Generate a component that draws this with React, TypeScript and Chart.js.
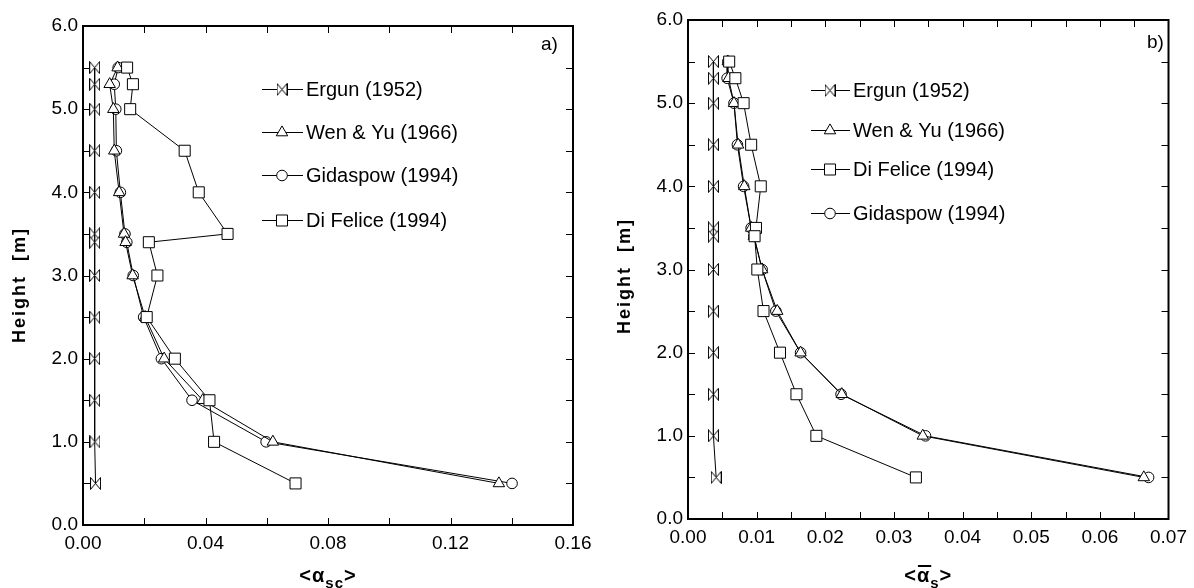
import React, { useEffect, useRef } from 'react';
import { Chart, registerables } from 'chart.js';

Chart.register(...registerables);

const FONT = "'Liberation Sans', Arial, Helvetica, sans-serif";

// ---------- Panel a) ----------
const heightsA = [5.5, 5.3, 5.0, 4.5, 4.0, 3.5, 3.4, 3.0, 2.5, 2.0, 1.5, 1.0, 0.5];
const ergunA = [0.0038, 0.0038, 0.0038, 0.0038, 0.0038, 0.0038, 0.0038, 0.0038, 0.0038, 0.0038, 0.0038, 0.0039, 0.0041];
const wenYuA = [0.0113, 0.0087, 0.0099, 0.0102, 0.0118, 0.0134, 0.0139, 0.0162, 0.0203, 0.0265, 0.0391, 0.062, 0.1358];
const gidaspowA = [0.0115, 0.0102, 0.0107, 0.0109, 0.0122, 0.0137, 0.0143, 0.0164, 0.0198, 0.0256, 0.0356, 0.0598, 0.1401];
const diFeliceA = [0.0144, 0.0163, 0.0154, 0.0332, 0.0378, 0.0472, 0.0215, 0.0243, 0.0208, 0.030, 0.0413, 0.0428, 0.0694];
const xTicksA = [0, 0.04, 0.08, 0.12, 0.16];

// ---------- Panel b) ----------
const heightsB = [5.5, 5.3, 5.0, 4.5, 4.0, 3.5, 3.4, 3.0, 2.5, 2.0, 1.5, 1.0, 0.5];
const ergunB = [0.0037, 0.0037, 0.0037, 0.0037, 0.0037, 0.0037, 0.0037, 0.0037, 0.0037, 0.0037, 0.0037, 0.0037, 0.0041];
const wenYuB = [0.0058, 0.0059, 0.0067, 0.0073, 0.0082, 0.0092, 0.0096, 0.0108, 0.0130, 0.0164, 0.0224, 0.0342, 0.0664];
const gidaspowB = [0.0058, 0.0057, 0.0067, 0.0072, 0.0081, 0.0092, 0.0096, 0.0108, 0.0128, 0.0164, 0.0223, 0.0346, 0.0671];
const diFeliceB = [0.0060, 0.0069, 0.0081, 0.0092, 0.0106, 0.0099, 0.0097, 0.0101, 0.0110, 0.0134, 0.0158, 0.0187, 0.0332];
const xTicksB = [0, 0.01, 0.02, 0.03, 0.04, 0.05, 0.06, 0.07];

const yTicks = [0, 1, 2, 3, 4, 5, 6];

type MarkerKind = 'bowtie' | 'triangle' | 'circle' | 'rect';

function makeBowtie(): HTMLCanvasElement {
  const c = document.createElement('canvas');
  c.width = 11;
  c.height = 13;
  const g = c.getContext('2d')!;
  g.fillStyle = '#fff';
  g.strokeStyle = '#000';
  g.lineWidth = 1;
  g.beginPath();
  g.moveTo(0.5, 0.5);
  g.lineTo(10.5, 12.5);
  g.lineTo(10.5, 0.5);
  g.lineTo(0.5, 12.5);
  g.closePath();
  g.fill();
  g.stroke();
  return c;
}

const RADII: Record<MarkerKind, number> = { bowtie: 5, triangle: 6.6, circle: 5.3, rect: 7.8 };

function drawMarker(ctx: CanvasRenderingContext2D, kind: MarkerKind, x: number, y: number, bow: HTMLCanvasElement) {
  ctx.save();
  ctx.fillStyle = '#fff';
  ctx.strokeStyle = '#000';
  ctx.lineWidth = 1;
  const r = RADII[kind];
  if (kind === 'bowtie') {
    ctx.drawImage(bow, x - bow.width / 2, y - bow.height / 2);
  } else if (kind === 'circle') {
    ctx.beginPath();
    ctx.arc(x, y, r, 0, Math.PI * 2);
    ctx.fill();
    ctx.stroke();
  } else if (kind === 'rect') {
    const s = Math.SQRT1_2 * r;
    ctx.beginPath();
    ctx.rect(x - s, y - s, 2 * s, 2 * s);
    ctx.fill();
    ctx.stroke();
  } else {
    let rad = 0;
    ctx.beginPath();
    ctx.moveTo(x + Math.sin(rad) * r, y - Math.cos(rad) * r);
    rad += (2 * Math.PI) / 3;
    ctx.lineTo(x + Math.sin(rad) * r, y - Math.cos(rad) * r);
    rad += (2 * Math.PI) / 3;
    ctx.lineTo(x + Math.sin(rad) * r, y - Math.cos(rad) * r);
    ctx.closePath();
    ctx.fill();
    ctx.stroke();
  }
  ctx.restore();
}

interface Series {
  label: string;
  values: number[];
  marker: MarkerKind;
  order: number;
}

interface PanelSpec {
  heights: number[];
  series: Series[];
  legendOrder: string[];
  xMax: number;
  xTicks: number[];
  xMinor: number;
  padTop: number;
  padRight: number;
  yAxisW: number;
  xAxisH: number;
  legend: { lx0: number; lx1: number; mx: number; tx: number; rows: number[] };
  panelLabel: { text: string; x: number; y: number };
  yTitle: { x: number; y: number };
  xTitle: { y: number; overline: boolean; sub: string };
}

function drawXTitle(ctx: CanvasRenderingContext2D, cx: number, base: number, overline: boolean, sub: string) {
  const big = `bold 20px ${FONT}`;
  const small = `bold 15px ${FONT}`;
  ctx.save();
  ctx.fillStyle = '#000';
  ctx.strokeStyle = '#000';
  ctx.textBaseline = 'alphabetic';
  ctx.textAlign = 'left';
  (ctx as any).letterSpacing = '1px';
  ctx.font = big;
  const wLt = ctx.measureText('<').width;
  const wA = ctx.measureText('α').width;
  const wGt = ctx.measureText('>').width;
  ctx.font = small;
  const wS = ctx.measureText(sub).width;
  const total = wLt + wA + wS + wGt;
  let x = cx - total / 2;
  ctx.font = big;
  ctx.fillText('<', x, base);
  x += wLt;
  ctx.fillText('α', x, base);
  if (overline) {
    ctx.lineWidth = 2;
    ctx.beginPath();
    ctx.moveTo(x + 1, base - 16);
    ctx.lineTo(x + wA + 1, base - 16);
    ctx.stroke();
  }
  x += wA;
  ctx.font = small;
  ctx.fillText(sub, x, base + 6);
  x += wS;
  ctx.font = big;
  ctx.fillText('>', x, base);
  ctx.restore();
}

function decorPlugin(spec: PanelSpec, bow: HTMLCanvasElement) {
  return {
    id: 'decor',
    afterDraw(chart: any) {
      const ctx: CanvasRenderingContext2D = chart.ctx;
      const { left, right, top, bottom } = chart.chartArea;
      const xs = chart.scales.x;
      const ys = chart.scales.y;
      ctx.save();
      // inward tick marks
      ctx.strokeStyle = '#000';
      ctx.lineWidth = 1;
      ctx.beginPath();
      const nx = Math.round(spec.xMax / spec.xMinor);
      for (let i = 1; i < nx; i++) {
        const px = Math.round(xs.getPixelForValue(i * spec.xMinor)) + 0.5;
        ctx.moveTo(px, bottom);
        ctx.lineTo(px, bottom - 7);
        ctx.moveTo(px, top);
        ctx.lineTo(px, top + 7);
      }
      for (let i = 1; i < 12; i++) {
        const py = Math.round(ys.getPixelForValue(i * 0.5)) + 0.5;
        ctx.moveTo(left, py);
        ctx.lineTo(left + 7, py);
        ctx.moveTo(right, py);
        ctx.lineTo(right - 7, py);
      }
      ctx.stroke();
      // frame
      ctx.lineWidth = 2;
      ctx.strokeRect(left, top, right - left, bottom - top);

      // legend
      ctx.font = `20px ${FONT}`;
      ctx.fillStyle = '#000';
      ctx.textBaseline = 'middle';
      ctx.textAlign = 'left';
      spec.legendOrder.forEach((name, i) => {
        const s = spec.series.find((q) => q.label === name)!;
        const y = spec.legend.rows[i];
        ctx.lineWidth = 1;
        ctx.beginPath();
        ctx.moveTo(spec.legend.lx0, y + 0.5);
        ctx.lineTo(spec.legend.lx1, y + 0.5);
        ctx.stroke();
        drawMarker(ctx, s.marker, spec.legend.mx, y + 0.5, bow);
        ctx.fillStyle = '#000';
        ctx.font = `20px ${FONT}`;
        ctx.textBaseline = 'middle';
        ctx.textAlign = 'left';
        ctx.fillText(s.label, spec.legend.tx, y + 1);
      });

      // panel label
      ctx.font = `19px ${FONT}`;
      ctx.textAlign = 'left';
      ctx.textBaseline = 'middle';
      ctx.fillText(spec.panelLabel.text, spec.panelLabel.x, spec.panelLabel.y);

      // y title
      ctx.save();
      ctx.translate(spec.yTitle.x, spec.yTitle.y);
      ctx.rotate(-Math.PI / 2);
      ctx.font = `bold 18px ${FONT}`;
      (ctx as any).letterSpacing = '2px';
      ctx.textAlign = 'center';
      ctx.textBaseline = 'alphabetic';
      ctx.fillText('Height  [m]', 0, 0);
      ctx.restore();

      // x title
      drawXTitle(ctx, (left + right) / 2, spec.xTitle.y, spec.xTitle.overline, spec.xTitle.sub);
      ctx.restore();
    },
  };
}

function buildConfig(spec: PanelSpec, bow: HTMLCanvasElement): any {
  const styleFor = (m: MarkerKind) => (m === 'bowtie' ? bow : m);
  return {
    type: 'scatter',
    data: {
      datasets: spec.series.map((s) => ({
        label: s.label,
        data: spec.heights.map((h, i) => ({ x: s.values[i], y: h })),
        showLine: true,
        borderColor: '#000',
        borderWidth: 1,
        tension: 0,
        pointStyle: styleFor(s.marker),
        pointRadius: RADII[s.marker],
        pointBackgroundColor: '#fff',
        pointBorderColor: '#000',
        pointBorderWidth: 1,
        order: s.order,
        clip: false,
      })),
    },
    options: {
      responsive: false,
      animation: false,
      events: [],
      layout: { padding: { top: spec.padTop, right: spec.padRight, left: 0, bottom: 0 } },
      plugins: { legend: { display: false }, tooltip: { enabled: false }, title: { display: false } },
      scales: {
        x: {
          type: 'linear',
          min: 0,
          max: spec.xMax,
          grid: { display: false, drawTicks: false },
          border: { display: false },
          afterBuildTicks: (scale: any) => {
            scale.ticks = spec.xTicks.map((v) => ({ value: v }));
          },
          ticks: {
            padding: 7,
            color: '#000',
            font: { family: FONT, size: 19 },
            maxRotation: 0,
            autoSkip: false,
            callback: (v: any) => Number(v).toFixed(2),
          },
          afterFit: (scale: any) => {
            scale.height = spec.xAxisH;
          },
        },
        y: {
          type: 'linear',
          min: 0,
          max: 6,
          grid: { display: false, drawTicks: false },
          border: { display: false },
          afterBuildTicks: (scale: any) => {
            scale.ticks = yTicks.map((v) => ({ value: v }));
          },
          ticks: {
            padding: 5,
            color: '#000',
            font: { family: FONT, size: 19 },
            autoSkip: false,
            callback: (v: any) => Number(v).toFixed(1),
          },
          afterFit: (scale: any) => {
            scale.width = spec.yAxisW;
          },
        },
      },
    },
    plugins: [decorPlugin(spec, bow)],
  };
}

const specA: PanelSpec = {
  heights: heightsA,
  series: [
    { label: 'Ergun (1952)', values: ergunA, marker: 'bowtie', order: 3 },
    { label: 'Wen & Yu (1966)', values: wenYuA, marker: 'triangle', order: 1 },
    { label: 'Gidaspow (1994)', values: gidaspowA, marker: 'circle', order: 2 },
    { label: 'Di Felice (1994)', values: diFeliceA, marker: 'rect', order: 0 },
  ],
  legendOrder: ['Ergun (1952)', 'Wen & Yu (1966)', 'Gidaspow (1994)', 'Di Felice (1994)'],
  xMax: 0.16,
  xTicks: xTicksA,
  xMinor: 0.02,
  padTop: 26,
  padRight: 27,
  yAxisW: 83,
  xAxisH: 63,
  legend: { lx0: 262, lx1: 303, mx: 282, tx: 306, rows: [89, 132, 175, 220] },
  panelLabel: { text: 'a)', x: 541, y: 45 },
  yTitle: { x: 25, y: 285 },
  xTitle: { y: 582, overline: false, sub: 'sc' },
};

const specB: PanelSpec = {
  heights: heightsB,
  series: [
    { label: 'Ergun (1952)', values: ergunB, marker: 'bowtie', order: 3 },
    { label: 'Wen & Yu (1966)', values: wenYuB, marker: 'triangle', order: 1 },
    { label: 'Di Felice (1994)', values: diFeliceB, marker: 'rect', order: 0 },
    { label: 'Gidaspow (1994)', values: gidaspowB, marker: 'circle', order: 2 },
  ],
  legendOrder: ['Ergun (1952)', 'Wen & Yu (1966)', 'Di Felice (1994)', 'Gidaspow (1994)'],
  xMax: 0.07,
  xTicks: xTicksB,
  xMinor: 0.005,
  padTop: 20,
  padRight: 19,
  yAxisW: 88,
  xAxisH: 69,
  legend: { lx0: 211, lx1: 250, mx: 230, tx: 253, rows: [90, 130, 169, 213] },
  panelLabel: { text: 'b)', x: 547, y: 43 },
  yTitle: { x: 30, y: 276 },
  xTitle: { y: 582, overline: true, sub: 's' },
};

function Panel({ spec, left, width }: { spec: PanelSpec; left: number; width: number }) {
  const ref = useRef<HTMLCanvasElement>(null);
  useEffect(() => {
    const bow = makeBowtie();
    const chart = new Chart(ref.current!, buildConfig(spec, bow));
    return () => chart.destroy();
  }, [spec]);
  return (
    <canvas
      ref={ref}
      width={width}
      height={588}
      style={{ position: 'absolute', left, top: 0, width, height: 588 }}
    />
  );
}

export default function App() {
  return (
    <div
      style={{
        position: 'fixed',
        left: 0,
        top: 0,
        width: 1194,
        height: 588,
        background: '#fff',
        overflow: 'hidden',
      }}
    >
      <Panel spec={specA} left={0} width={600} />
      <Panel spec={specB} left={600} width={594} />
    </div>
  );
}
